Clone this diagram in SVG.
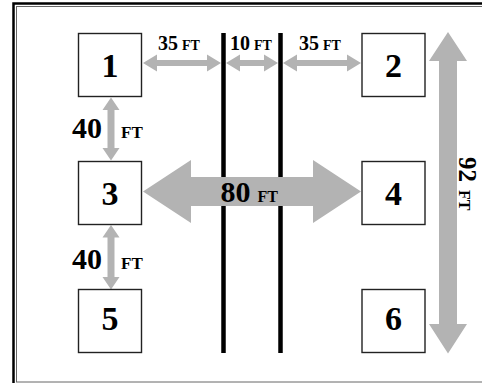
<svg xmlns="http://www.w3.org/2000/svg" width="482" height="383" viewBox="0 0 482 383">
<style>
.box{fill:#fff;stroke:#222;stroke-width:1.4}
.num{font-family:"Liberation Serif",serif;font-weight:bold;font-size:34px;text-anchor:middle;fill:#000}
.lbl{font-family:"Liberation Serif",serif;font-weight:bold;fill:#000}
.arr{fill:#b3b3b3}
.wall{stroke:#000;stroke-width:4.5}
</style>
<rect width="482" height="383" fill="#fff"/>
<path d="M13.5,383 V3.5 H482" fill="none" stroke="#000" stroke-width="2.5"/>
<rect x="16.5" y="6.5" width="500" height="375.5" fill="none" stroke="#666" stroke-width="1"/>
<g id="walls">
<line class="wall" x1="223.5" y1="33" x2="223.5" y2="353"/>
<line class="wall" x1="280.5" y1="33" x2="280.5" y2="353"/>
</g>
<g id="connectors">
<polygon class="arr" points="143,63 157,54.5 157,60 207,60 207,54.5 221,63 207,71.5 207,66 157,66 157,71.5"/>
<polygon class="arr" points="226,63 240,54.5 240,60 264,60 264,54.5 278,63 264,71.5 264,66 240,66 240,71.5"/>
<polygon class="arr" points="283,63 297,54.5 297,60 347,60 347,54.5 361,63 347,71.5 347,66 297,66 297,71.5"/>
<polygon class="arr" points="111,97.5 102.5,110 107.5,110 107.5,148 102.5,148 111,160.5 119.5,148 114.5,148 114.5,110 119.5,110"/>
<polygon class="arr" points="111,225 102.5,237.5 107.5,237.5 107.5,277 102.5,277 111,289.5 119.5,277 114.5,277 114.5,237.5 119.5,237.5"/>
<polygon class="arr" points="143,191.5 191,160 191,177 313,177 313,160 361,191.5 313,223 313,206 191,206 191,223"/>
<polygon class="arr" points="448,32 429,61 439,61 439,324 429,324 448,353.5 467,324 457,324 457,61 467,61"/>
</g>
<g id="labels">
<text class="lbl" x="158" y="50"><tspan font-size="20">35</tspan><tspan font-size="14" dx="4">FT</tspan></text>
<text class="lbl" x="230" y="50"><tspan font-size="20">10</tspan><tspan font-size="14" dx="4">FT</tspan></text>
<text class="lbl" x="299" y="50"><tspan font-size="20">35</tspan><tspan font-size="14" dx="4">FT</tspan></text>
<text class="lbl" x="72" y="138"><tspan font-size="30">40</tspan></text>
<text class="lbl" x="121" y="138" font-size="17">FT</text>
<text class="lbl" x="72" y="269"><tspan font-size="30">40</tspan></text>
<text class="lbl" x="121" y="269" font-size="17">FT</text>
<text class="lbl" x="220.5" y="202"><tspan font-size="30">80</tspan><tspan font-size="16" dx="7">FT</tspan></text>
<text class="lbl" transform="translate(459,157) rotate(90)"><tspan font-size="25">92</tspan><tspan font-size="16" dx="8">FT</tspan></text>
</g>
<g id="n1"><rect class="box" x="78.5" y="33.5" width="63" height="63"/><text class="num" x="110" y="76.5">1</text></g>
<g id="n2"><rect class="box" x="362" y="33.5" width="63" height="63"/><text class="num" x="393.5" y="76.5">2</text></g>
<g id="n3"><rect class="box" x="78.5" y="161.5" width="63" height="63"/><text class="num" x="110" y="204.5">3</text></g>
<g id="n4"><rect class="box" x="362" y="161.5" width="63" height="63"/><text class="num" x="393.5" y="204.5">4</text></g>
<g id="n5"><rect class="box" x="78.5" y="289.5" width="63" height="63"/><text class="num" x="110" y="329.5">5</text></g>
<g id="n6"><rect class="box" x="362" y="289.5" width="63" height="63"/><text class="num" x="393.5" y="329.5">6</text></g>
</svg>
